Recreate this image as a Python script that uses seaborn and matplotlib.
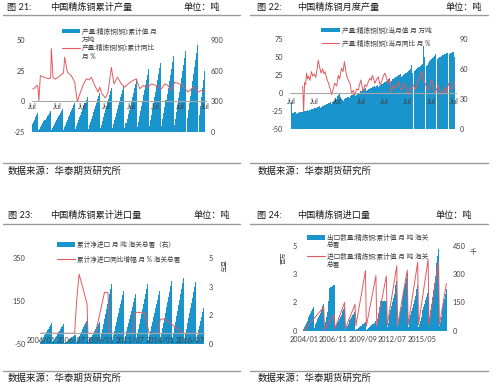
import numpy as np
import seaborn as sns
import matplotlib.pyplot as plt
from matplotlib.lines import Line2D
from matplotlib.patches import Rectangle

# ---------------- data ----------------
# fig 21: cumulative output, 万吨, Jul 2003 .. Jul 2017, one list per year
p1_cum = [
    [78, 100, 122, 145, 167, 189],
    [17, 34, 51, 68, 85, 103, 120, 137, 154, 171, 188, 205],
    [19, 38, 57, 76, 95, 114, 133, 152, 171, 190, 209, 228],
    [24, 48, 72, 96, 120, 144, 167, 191, 215, 239, 263, 287],
    [28, 57, 85, 114, 142, 171, 199, 228, 256, 285, 313, 342],
    [32, 64, 96, 128, 160, 192, 224, 256, 288, 320, 352, 385],
    [36, 72, 108, 145, 181, 217, 253, 289, 325, 362, 398, 434],
    [38, 75, 113, 150, 188, 225, 262, 300, 338, 375, 412, 450],
    [43, 86, 129, 172, 215, 258, 300, 343, 386, 429, 472, 515],
    [51, 102, 153, 204, 255, 306, 358, 409, 460, 511, 562, 613],
    [56, 113, 170, 226, 282, 339, 396, 452, 508, 565, 622, 678],
    [62, 124, 186, 248, 310, 372, 433, 495, 557, 619, 681, 743],
    [66, 132, 198, 264, 330, 396, 462, 528, 594, 660, 726, 792],
    [0, 141, 212, 283, 353, 424, 495, 565, 636, 707, 777, 848],
    [0, 171, 256, 341, 426, 512, 597],
]
# cumulative yoy %, (month index, value)
p1_yoy_t = [0, 2, 4, 5, 6, 7.5, 10, 13, 16, 17.5, 18.2, 19.8, 22, 24.7, 28, 30, 31.2,
            33.8, 36, 37.7, 41, 43.5, 45.8, 49, 52.3, 55, 57.2, 60.5, 63.7, 65.3, 67.6,
            70.9, 73.5, 76.7, 79.3, 82.6, 86.5, 89.7, 93, 97.8, 101, 104.4, 107.6, 112.5,
            115.7, 120.6, 125.5, 128.8, 132, 135, 138.5, 143.4, 147.6, 151.5, 154.8, 158,
            161.3, 164.5, 168]
p1_yoy = [10, 11, 13, 12, 0.5, 21, 20, 19, 18.5, 19, 43, 19.5, 18, 19.5, 22, 23, 36,
          24, 22, 21, 15.5, -0.5, 5.5, 13, 18.3, 17.5, 19.6, 13, 7.5, 11.6, 6.2,
          2.7, 7.5, 27.7, 14.2, 19.6, 14.2, 11.6, 14.2, 17, 18.3, 10.2, 12.9, 11.6,
          14.2, 12.9, 10.2, 14.2, 12.9, 8.9, 15.6, 14.2, 11.6, 7.5, 10.2, 11.6,
          7.5, 8.9, 8]
p1_xticks = [0, 24, 48, 72, 96, 120, 144, 168]
p1_xlabels = ['Jul'] * 8

# fig 22: monthly output, 万吨, Jul 2003 .. Jul 2017
p2_month = [
    [14, 27, 16, 16, 17, 17],
    [15, 16, 16, 17, 17, 17, 17, 18, 18, 18, 18, 19],
    [18, 19, 19, 20, 20, 20, 21, 21, 21, 22, 22, 23],
    [21, 22, 23, 23, 24, 24, 24, 25, 25, 26, 26, 27],
    [25, 27, 28, 29, 31, 30, 33, 34, 35, 32, 30, 29],
    [28, 30, 31, 31, 32, 32, 31, 33, 34, 34, 35, 36],
    [33, 34, 35, 36, 36, 37, 38, 38, 39, 40, 40, 41],
    [38, 39, 40, 40, 41, 41, 42, 42, 43, 42, 43, 44],
    [42, 43, 44, 45, 45, 46, 47, 47, 48, 49, 50, 51],
    [47, 48, 50, 50, 51, 51, 52, 52, 53, 54, 54, 55],
    [52, 53, 54, 55, 56, 56, 57, 58, 59, 60, 64, 56],
    [0, 58, 59, 60, 61, 62, 62, 63, 64, 65, 83, 72],
    [0, 63, 64, 66, 67, 68, 69, 70, 71, 72, 73, 75],
    [0, 70, 71, 72, 72, 73, 74, 74, 75, 75, 76, 76],
    [0, 75, 76, 76, 77, 77, 72],
]
p2_yoy_t = [12, 13, 14, 15, 16, 17, 18, 19.5, 21, 22.5, 24, 25.5, 27, 28, 29.5, 31,
            32.5, 34, 35, 36.5, 38, 40, 41.8, 43.5, 45, 47, 48.7, 50, 52, 53.5, 55,
            56.5, 57.5, 59, 60.7, 62.4, 64, 65.8, 67.5, 69.3, 70.5, 72, 73, 74.4, 76,
            77.8, 79.5, 81.3, 82.5, 83.7, 85, 86.4, 88, 89.8, 91.5, 93.3, 95, 96.7,
            98.5, 100.1, 101.5, 102.9, 105, 107, 108.5, 110.4, 112, 113.8, 115.5,
            117.3, 119, 120.7, 122.5, 124.2, 126, 127.6, 129.5, 131, 132.5, 134.4,
            136, 137.9, 139.5, 141.3, 143, 144.7, 146.5, 148.2, 150, 151.6, 153, 155,
            156.5, 158.5, 160, 161.9, 163.5, 165.3, 166.5, 168]
p2_yoy = [10, -25, 15, 12, 28, 20, 24, 18, 30, 24, 27, 22, 35, 46, 36, 28, 34, 27, 30, 22,
          16, 8, -2, 6, 14, 10, 25, 20, 35, 30, 44, 30, 23, 18, 14, 0, 4, -2, 6, 4.6,
          12, 18.5, 10, 2.3, 12, 9.3, 16, 21, 18, 25, 20, 14, 19, 23, 12, 16, 24, 28, 20, 14,
          20, 2.3, 10, 7, 12, 16, 8, 4.6, 10, 14, 6, -2, 5, 9, 12, 4.6, 10, 18.5, 22, 30,
          20, 14, 8, 4.6, 12, 18.5, 8, 0, 6, 11.6, 4, -2, 3, 7, 0, 14, 8, 4.6, 10, 16]
p2_xticks = [0, 24, 48, 72, 96, 120, 144, 168]
p2_xlabels = ['Jul'] * 8

# fig 23: cumulative net import, Jan 2004 .. Aug 2017
p3_cum = [
    [0.10, 0.20, 0.30, 0.40, 0.50, 0.60, 0.70, 0.80, 0.90, 1.00, 1.10, 1.20],
    [0.10, 0.19, 0.29, 0.38, 0.48, 0.58, 0.67, 0.77, 0.86, 0.96, 1.05, 1.15],
    [0.05, 0.09, 0.14, 0.18, 0.23, 0.27, 0.32, 0.37, 0.41, 0.46, 0.50, 0.55],
    [0.12, 0.24, 0.36, 0.48, 0.60, 0.72, 0.85, 0.97, 1.09, 1.21, 1.33, 1.45],
    [0.11, 0.22, 0.33, 0.43, 0.54, 0.65, 0.76, 0.87, 0.98, 1.08, 1.19, 1.30],
    [0.29, 0.58, 0.88, 1.17, 1.46, 1.75, 2.04, 2.33, 2.63, 2.92, 3.21, 3.50],
    [0.26, 0.52, 0.78, 1.03, 1.29, 1.55, 1.81, 2.07, 2.33, 2.58, 2.84, 3.10],
    [0.24, 0.48, 0.73, 0.97, 1.21, 1.45, 1.69, 1.93, 2.18, 2.42, 2.66, 2.90],
    [0.29, 0.58, 0.88, 1.17, 1.46, 1.75, 2.04, 2.33, 2.63, 2.92, 3.21, 3.50],
    [0.26, 0.52, 0.78, 1.03, 1.29, 1.55, 1.81, 2.07, 2.33, 2.58, 2.84, 3.10],
    [0.30, 0.61, 0.91, 1.22, 1.52, 1.83, 2.13, 2.43, 2.74, 3.04, 3.35, 3.65],
    [0.32, 0.64, 0.96, 1.28, 1.60, 1.93, 2.25, 2.57, 2.89, 3.21, 3.53, 3.85],
    [0.30, 0.60, 0.90, 1.20, 1.50, 1.80, 2.10, 2.40, 2.70, 3.00, 3.30, 3.60],
    [0.26, 0.53, 0.79, 1.05, 1.31, 1.58, 1.84, 2.10],
]
p3_yoy_t = [0, 34, 36, 38.5, 42, 46.5, 47.3, 55, 64, 67.5, 69, 93, 94.5, 104, 109,
            118, 120, 125, 143, 163]
p3_yoy = [0, 0, 150, 275, 215, 136, 0, 0, 190, 190, 0, 0, 97, 97, 0, 0, 66, 66, 0, 0]
p3_xticks = [0, 30, 60, 90, 120, 150]
p3_xlabels = ['2004/01', '2006/07', '2009/01', '2011/07', '2014/01', '2016/07']

# fig 24: cumulative export (bars) and import (line), Jan 2004 .. Sep 2017
p4_exp = [
    [0.12, 0.24, 0.35, 0.47, 0.59, 0.71, 0.82, 0.94, 1.06, 1.18, 1.29, 1.41],
    [0.13, 0.27, 0.40, 0.53, 0.67, 0.80, 0.93, 1.07, 1.20, 1.33, 1.47, 1.60],
    [0.25, 0.50, 0.80, 1.10, 1.45, 1.75, 2.50, 2.55, 2.60, 2.63, 2.66, 2.69],
    [0.12, 0.24, 0.35, 0.47, 0.59, 0.71, 0.82, 0.94, 1.06, 1.18, 1.29, 1.41],
    [0.10, 0.20, 0.30, 0.40, 0.50, 0.61, 0.71, 0.81, 0.91, 1.01, 1.11, 1.21],
    [0.04, 0.08, 0.12, 0.17, 0.21, 0.25, 0.29, 0.33, 0.38, 0.42, 0.46, 0.50],
    [0.05, 0.09, 0.14, 0.18, 0.23, 0.28, 0.32, 0.37, 0.41, 0.46, 0.50, 0.55],
    [0.35, 0.70, 1.05, 1.40, 1.72, 1.74, 1.75, 1.76, 1.76, 1.77, 1.77, 1.77],
    [0.24, 0.48, 0.73, 0.97, 1.21, 1.45, 1.69, 1.93, 2.18, 2.42, 2.66, 2.90],
    [0.28, 0.57, 0.85, 1.13, 1.42, 1.70, 1.98, 2.27, 2.55, 2.83, 3.12, 3.40],
    [0.23, 0.45, 0.68, 0.90, 1.13, 1.35, 1.58, 1.80, 2.03, 2.25, 2.48, 2.70],
    [0.20, 0.40, 0.60, 0.80, 1.00, 1.20, 1.39, 1.59, 1.79, 1.99, 2.19, 2.39],
    [0.40, 0.80, 1.20, 1.59, 1.99, 2.39, 2.79, 3.19, 3.59, 3.98, 4.38, 4.78],
    [0.27, 0.54, 0.81, 1.08, 1.35, 1.62, 1.89, 2.16, 2.43],
]
p4_imp_t = [0, 23, 24, 35, 36, 47, 48, 59, 60, 71, 72, 83, 84, 95, 96, 107, 108, 119,
            120, 131, 132, 143, 144, 155, 156, 164]
p4_imp = [0, 125, 7, 85, 12, 150, 12, 140, 26, 318, 24, 292, 24, 290, 28, 344, 27, 321,
          30, 362, 32, 378, 30, 360, 30, 250]
p4_xticks = [0, 34, 68, 102, 136]
p4_xlabels = ['2004/01', '2006/11', '2009/09', '2012/07', '2015/05']

# ---------------- style ----------------
W, H = 500, 388
BLUE = '#1a94cc'
RED = '#e25b60'
ZERO = '#a8a8a8'
TXT = '#404040'
SEP = '#9a9a9a'

sns.set_theme(style='white')
plt.rcParams['font.family'] = ['Lato', 'Noto Sans CJK SC', 'DejaVu Sans']
plt.rcParams['axes.unicode_minus'] = False

fig = plt.figure(figsize=(5, 3.88), dpi=100)


def px_rect(x0, y0, x1, y1):
    return [x0 / W, 1 - y1 / H, (x1 - x0) / W, (y1 - y0) / H]


def ftext(x, y, s, size, **kw):
    kw.setdefault('va', 'center')
    kw.setdefault('color', '#1a1a1a')
    fig.text(x / W, 1 - y / H, s, fontsize=size, **kw)


def hline(x0, x1, y, color=SEP, lw=1.0):
    fig.add_artist(Line2D([x0 / W, x1 / W], [1 - y / H] * 2, color=color, lw=lw))


def leg_bar(x0, x1, y, h=4.5):
    fig.add_artist(Rectangle((x0 / W, 1 - (y + h / 2) / H), (x1 - x0) / W, h / H,
                             transform=fig.transFigure, color=BLUE, lw=0))


def leg_line(x0, x1, y):
    fig.add_artist(Line2D([x0 / W, x1 / W], [1 - y / H] * 2, color=RED, lw=0.8))


def make_panel(box, xlim, lim_l, lim_r, ticks_l, ticks_r, xticks, xlabels,
               bars, line_t, line_v, bars_left=False, zero_axis=True,
               pad_l=5, pad_r=3, pad_x=2):
    ax = fig.add_axes(px_rect(*box))
    ax2 = ax.twinx()
    bax, lax = (ax, ax2) if bars_left else (ax2, ax)
    vals = [v for yr in bars for v in yr]
    t = np.arange(len(vals))
    sns.barplot(x=t, y=vals, ax=bax, native_scale=True, width=1.0, color=BLUE,
                saturation=1, linewidth=0, errorbar=None, antialiased=False)
    sns.lineplot(x=line_t, y=line_v, ax=lax, color=RED, linewidth=0.7,
                 estimator=None, sort=False)
    if not bars_left:
        ax.set_zorder(ax2.get_zorder() + 1)
        ax.patch.set_visible(False)
    ax.set_xlim(*xlim)
    ax.set_ylim(*lim_l)
    ax2.set_ylim(*lim_r)
    ax.set_yticks(ticks_l[0])
    ax.set_yticklabels(ticks_l[1])
    ax2.set_yticks(ticks_r[0])
    ax2.set_yticklabels(ticks_r[1])
    ax.set_xticks(xticks)
    ax.set_xticklabels(xlabels)
    for a in (ax, ax2):
        a.set_xlabel('')
        a.set_ylabel('')
        a.grid(False)
        for s in a.spines.values():
            s.set_color('none')
        a.tick_params(length=0, labelsize=5.3, labelcolor=TXT)
    ax.tick_params(axis='y', pad=pad_l)
    ax2.tick_params(axis='y', pad=pad_r)
    ax.tick_params(axis='x', pad=pad_x)
    if zero_axis:
        ax.spines['bottom'].set_position(('data', 0))
        ax.axhline(0, color=ZERO, lw=0.8, zorder=3)
    return ax, ax2


# ---------------- 图21 ----------------
make_panel((32, 40, 207, 132), (-0.68, 170.0), (-25, 50), (0, 900),
           ([-25, 0, 25, 50], ['-25', '0', '25', '50']),
           ([0, 300, 600, 900], ['0', '300', '600', '900']),
           p1_xticks, p1_xlabels, p1_cum, p1_yoy_t, p1_yoy,
           pad_l=5, pad_r=2.8, pad_x=1.5)

# ---------------- 图22 ----------------
make_panel((290, 39.3, 457, 129.3), (-1.03, 170.8), (-50, 75), (0, 90),
           ([-50, -25, 0, 25, 50, 75], ['-50', '-25', '0', '25', '50', '75']),
           ([0, 30, 60, 90], ['0', '30', '60', '90']),
           p2_xticks, p2_xlabels, p2_month, p2_yoy_t, p2_yoy,
           pad_l=5, pad_r=2.2, pad_x=3.5)

# ---------------- 图23 ----------------
make_panel((40, 258, 205, 344), (-0.8, 165.0), (-50, 350), (0, 5),
           ([-50, 150, 350], ['-50', '150', '350']),
           ([0, 5 / 3, 10 / 3, 5], ['0', '2', '3', '5']),
           p3_xticks, p3_xlabels, p3_cum, p3_yoy_t, p3_yoy,
           pad_l=10.5, pad_r=2.4, pad_x=2.8)

# ---------------- 图24 ----------------
make_panel((303, 245.7, 447, 330.7), (-0.8, 164.7), (0, 5), (0, 450),
           ([0, 5 / 3, 10 / 3, 5], ['0', '2', '3', '5']),
           ([0, 150, 300, 450], ['0', '150', '300', '450']),
           p4_xticks, p4_xlabels, p4_exp, p4_imp_t, p4_imp,
           bars_left=True, zero_axis=False, pad_l=4.5, pad_r=4, pad_x=4)

# ---------------- titles, rules, legends, sources ----------------
TS, SS, LS = 6.6, 6.8, 4.8
src = '数据来源：华泰期货研究所'

# 图21
ftext(7, 7.5, '图 21:', TS)
ftext(50, 7.5, '中国精炼铜累计产量', TS)
ftext(183, 7.5, '单位：吨', TS)
hline(3, 240, 15)
leg_bar(62, 80, 31)
ftext(82, 31, '产量:精炼铜(铜):累计值 月', LS, color=TXT)
ftext(82, 39.3, '万吨', LS, color=TXT)
leg_line(62, 80, 47.7)
ftext(82, 47.7, '产量:精炼铜(铜):累计同比', LS, color=TXT)
ftext(82, 56, '月 %', LS, color=TXT)
hline(3, 240, 162.7)
ftext(8, 170.7, src, SS)

# 图22
ftext(257, 7.5, '图 22:', TS)
ftext(297, 7.5, '中国精炼铜月度产量', TS)
ftext(445, 7.5, '单位：吨', TS)
hline(250, 488, 15)
leg_bar(321, 340, 30)
ftext(342, 30, '产量:精炼铜(铜):当月值 月 万吨', LS, color=TXT)
leg_line(322, 339, 43.3)
ftext(342, 43.3, '产量:精炼铜(铜):当月同比 月 %', LS, color=TXT)
hline(250, 488, 162.7)
ftext(258, 170.7, src, SS)

# 图23
ftext(8, 215.7, '图 23:', TS)
ftext(50, 215.7, '中国精炼铜累计进口量', TS)
ftext(193, 215.7, '单位：吨', TS)
hline(3, 240, 224)
leg_bar(57, 75, 244.7)
ftext(77.3, 244.7, '累计净进口 月 吨 海关总署（右）', LS, color=TXT)
leg_line(57, 75, 259)
ftext(77.3, 259, '累计净进口同比增幅 月 % 海关总署', LS, color=TXT)
ftext(221, 266, '百万', 4.5, color=TXT, ha='center', rotation=270)
hline(3, 240, 370.7)
ftext(8, 378.3, src, SS)

# 图24
ftext(257, 215.7, '图 24:', TS)
ftext(297, 215.7, '中国精炼铜进口量', TS)
ftext(435, 215.7, '单位：吨', TS)
hline(250, 488, 224)
leg_bar(307, 325, 237.3)
ftext(326.7, 237.3, '出口数量:精炼铜:累计值 月 吨 海关', LS, color=TXT)
ftext(326.7, 244.7, '总署', LS, color=TXT)
leg_line(307, 325, 256.3)
ftext(326.7, 256.3, '进口数量:精炼铜:累计值 月 吨 海关', LS, color=TXT)
ftext(326.7, 264.7, '总署', LS, color=TXT)
ftext(284, 258, '百万', 4.5, color=TXT, ha='center', rotation=90)
ftext(473, 251.3, '千', 4.8, color=TXT, ha='center')
hline(250, 488, 370.7)
ftext(258, 378.3, src, SS)

fig.savefig('out.png', dpi=100)
